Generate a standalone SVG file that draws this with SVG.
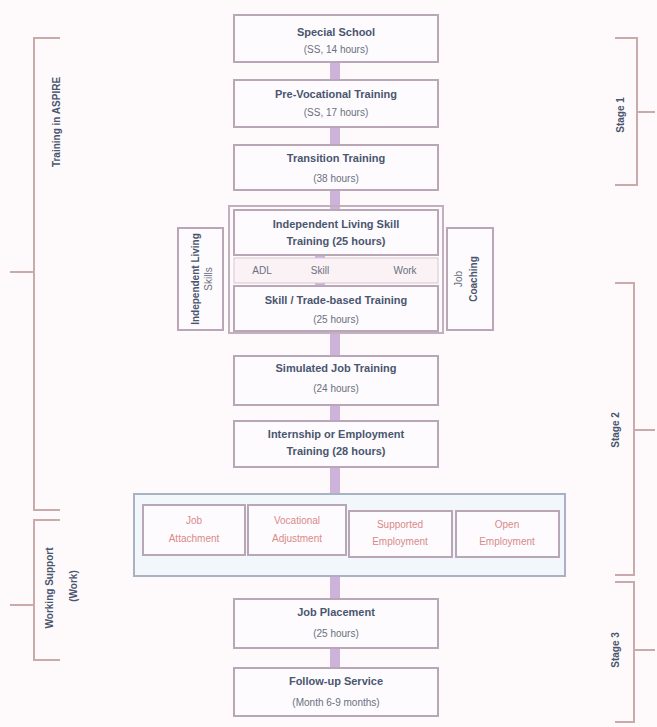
<svg xmlns="http://www.w3.org/2000/svg" width="657" height="727" viewBox="0 0 657 727">
<style>
.bx{fill:#fdfbfd;stroke:#b9a6b6;stroke-width:2}
.t{font-family:"Liberation Sans",Arial,sans-serif;font-size:11px;font-weight:bold;fill:#4a5670;text-anchor:middle}
.s{font-family:"Liberation Sans",Arial,sans-serif;font-size:10px;fill:#6a7080;text-anchor:middle}
.r{font-family:"Liberation Sans",Arial,sans-serif;font-size:10px;fill:#d98a8a;text-anchor:middle}
.br{fill:none;stroke:#c9abab;stroke-width:2}
.con{stroke:#cdb3d9;stroke-width:10}
.v{font-family:"Liberation Sans",Arial,sans-serif;font-size:10px;font-weight:bold;fill:#4a5670;text-anchor:middle}
</style>
<rect width="657" height="727" fill="#fefafb"/>
<g id="connectors">
<line class="con" x1="335" y1="62" x2="335" y2="80"/>
<line class="con" x1="335" y1="127" x2="335" y2="145"/>
<line class="con" x1="335" y1="190" x2="335" y2="210"/>
<line class="con" x1="320" y1="255" x2="320" y2="287"/>
<line class="con" x1="335" y1="332" x2="335" y2="356"/>
<line class="con" x1="335" y1="405" x2="335" y2="421"/>
<line class="con" x1="335" y1="467" x2="335" y2="494"/>
<line class="con" x1="335" y1="576" x2="335" y2="599"/>
<line class="con" x1="335" y1="648" x2="335" y2="668"/>
</g>
<g id="n1"><rect class="bx" x="234" y="15" width="204" height="47"/><text class="t" x="336" y="36">Special School</text><text class="s" x="336" y="53">(SS, 14 hours)</text></g>
<g id="n2"><rect class="bx" x="234" y="80" width="204" height="47"/><text class="t" x="336" y="98">Pre-Vocational Training</text><text class="s" x="336" y="116">(SS, 17 hours)</text></g>
<g id="n3"><rect class="bx" x="234" y="145" width="204" height="45"/><text class="t" x="336" y="162">Transition Training</text><text class="s" x="336" y="182">(38 hours)</text></g>
<g id="group"><rect fill="none" stroke="#c2afc0" stroke-width="2" x="229" y="206" width="214" height="127"/></g>
<g id="n4"><rect class="bx" x="234" y="210" width="204" height="45"/><text class="t" x="336" y="228">Independent Living Skill</text><text class="t" x="336" y="245">Training (25 hours)</text></g>
<g id="mid"><rect fill="#fbf2f6" stroke="#d8c6d4" stroke-width="1" x="234" y="258" width="204" height="25"/><text class="s" x="262" y="274" font-size="8">ADL</text><text class="s" x="320" y="274" font-size="8">Skill</text><text class="s" x="405" y="274" font-size="8">Work</text></g>
<g id="n5"><rect class="bx" x="234" y="286" width="204" height="45"/><text class="t" x="336" y="304">Skill / Trade-based Training</text><text class="s" x="336" y="323">(25 hours)</text></g>
<g id="side-left"><rect class="bx" x="178" y="228" width="45" height="102"/><text class="v" transform="translate(199,279) rotate(-90)">Independent Living</text><text class="s" font-size="8" transform="translate(212,279) rotate(-90)">Skills</text></g>
<g id="side-right"><rect class="bx" x="447" y="228" width="46" height="102"/><text class="s" font-size="8" transform="translate(462,279) rotate(-90)">Job</text><text class="v" transform="translate(477,279) rotate(-90)">Coaching</text></g>
<g id="n6"><rect class="bx" x="234" y="356" width="204" height="49"/><text class="t" x="336" y="372">Simulated Job Training</text><text class="s" x="336" y="392">(24 hours)</text></g>
<g id="n7"><rect class="bx" x="234" y="421" width="204" height="46"/><text class="t" x="336" y="438">Internship or Employment</text><text class="t" x="336" y="455">Training (28 hours)</text></g>
<g id="n8"><rect fill="#f2f7fc" stroke="#a9b2c3" stroke-width="2" x="134" y="494" width="431" height="82"/>
<rect class="bx" x="143" y="505" width="102" height="50" stroke-width="1.5"/><text class="r" x="194" y="524">Job</text><text class="r" x="194" y="542">Attachment</text>
<rect class="bx" x="248" y="505" width="98" height="50" stroke-width="1.5"/><text class="r" x="297" y="524">Vocational</text><text class="r" x="297" y="542">Adjustment</text>
<rect class="bx" x="349" y="511" width="103" height="46" stroke-width="1.5"/><text class="r" x="400" y="528">Supported</text><text class="r" x="400" y="545">Employment</text>
<rect class="bx" x="456" y="511" width="103" height="46" stroke-width="1.5"/><text class="r" x="507" y="528">Open</text><text class="r" x="507" y="545">Employment</text></g>
<g id="n9"><rect class="bx" x="234" y="599" width="204" height="49"/><text class="t" x="336" y="616">Job Placement</text><text class="s" x="336" y="637">(25 hours)</text></g>
<g id="n10"><rect class="bx" x="234" y="668" width="204" height="48"/><text class="t" x="336" y="685">Follow-up Service</text><text class="s" x="336" y="706">(Month 6-9 months)</text></g>
<g id="brackets">
<path class="br" d="M60 38 H34 V510 H60"/><line class="br" x1="10" y1="272" x2="34" y2="272"/>
<path class="br" d="M60 520 H34 V660 H60"/><line class="br" x1="10" y1="605" x2="34" y2="605"/>
<path class="br" d="M615 38 H637 V185 H615"/><line class="br" x1="637" y1="112" x2="655" y2="112"/>
<path class="br" d="M615 283 H634 V575 H615"/><line class="br" x1="634" y1="430" x2="655" y2="430"/>
<path class="br" d="M615 582 H634 V722 H615"/><line class="br" x1="634" y1="650" x2="655" y2="650"/>
</g>
<g id="labels">
<text class="v" transform="translate(60,122) rotate(-90)">Training in ASPIRE</text>
<text class="v" transform="translate(53,588) rotate(-90)">Working Support</text>
<text class="v" transform="translate(77,586) rotate(-90)">(Work)</text>
<text class="v" transform="translate(624,115) rotate(-90)">Stage 1</text>
<text class="v" transform="translate(619,430) rotate(-90)">Stage 2</text>
<text class="v" transform="translate(619,650) rotate(-90)">Stage 3</text>
</g>
</svg>
